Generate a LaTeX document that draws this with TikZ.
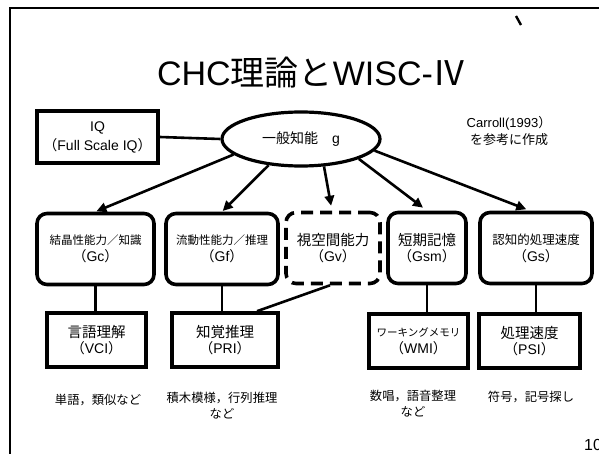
\documentclass[tikz,border=0pt]{standalone}
\usepackage{fontspec}
\setmainfont{Liberation Sans}
\newfontfamily\jpf{Noto Sans CJK JP}
\usetikzlibrary{arrows.meta,shapes.geometric}
\begin{document}
\begin{tikzpicture}[x=1pt,y=-1pt,
  sq/.style={draw,line width=3.6pt,align=center,inner sep=0pt},
  rbox/.style={sq,rounded corners=10pt},
  dbox/.style={rbox,dash pattern=on 12pt off 7pt},
  arr/.style={line width=2.6pt,-{Triangle[length=10pt,width=9.5pt]}},
  link/.style={line width=2.6pt},
  frame/.style={line width=2.2pt},
  note/.style={align=center,inner sep=0pt,font=\fontsize{12.3}{16}\selectfont\jpf}]
\useasboundingbox (0,0) rectangle (599,454);
\fill[white] (0,0) rectangle (599,454);
% slide frame
\coordinate (fl) at (10,456);
\coordinate (ftl) at (10,8);
\coordinate (fr) at (601,8);
\draw[frame] (fl) -- (ftl) -- (fr);
\coordinate (t1) at (516,16);
\coordinate (t2) at (521,25);
\draw[line width=2.4pt] (t1) -- (t2);
% title
\node[inner sep=0pt,font=\fontsize{34}{36}\selectfont] (title) at (312,73)
  {CHC{\jpf 理論と}WISC-{\jpf Ⅳ}};
% top
\node[sq,minimum width=121pt,minimum height=52pt,font=\fontsize{14}{19}\selectfont] (iq) at (97.5,137)
  {IQ\\{\jpf（}Full Scale IQ{\jpf ）}};
\node[draw,ellipse,line width=3.2pt,minimum width=158pt,minimum height=54pt,inner sep=0pt,
  font=\fontsize{14}{16}\selectfont] (g) at (301,139) {{\jpf 一般知能　}g};
\node[align=center,inner sep=0pt,font=\fontsize{13}{17}\selectfont] (car) at (509,131)
  {Carroll(1993{\jpf ）}\\{\jpf を参考に作成}};
\draw[link] (iq.east) -- (g.west);
% row 1
\node[rbox,minimum width=117pt,minimum height=71pt] (gc) at (95.5,249)
  {{\fontsize{11.5}{14}\selectfont\jpf 結晶性能力／知識}\\[3pt]{\fontsize{14}{14}\selectfont{\jpf（}Gc{\jpf ）}}};
\node[rbox,minimum width=112pt,minimum height=71pt] (gf) at (222,249)
  {{\fontsize{11.5}{14}\selectfont\jpf 流動性能力／推理}\\[3pt]{\fontsize{14}{14}\selectfont{\jpf（}Gf{\jpf ）}}};
\node[dbox,minimum width=94pt,minimum height=71pt] (gv) at (333,248)
  {{\fontsize{14.5}{14}\selectfont\jpf 視空間能力}\\[2pt]{\fontsize{14}{14}\selectfont{\jpf（}Gv{\jpf ）}}};
\node[rbox,minimum width=78pt,minimum height=71pt] (gsm) at (427,248)
  {{\fontsize{14.5}{14}\selectfont\jpf 短期記憶}\\[2pt]{\fontsize{14}{14}\selectfont{\jpf（}Gsm{\jpf ）}}};
\node[rbox,minimum width=112pt,minimum height=71pt] (gs) at (536,248)
  {{\fontsize{12.5}{14}\selectfont\jpf 認知的処理速度}\\[3pt]{\fontsize{14}{14}\selectfont{\jpf（}Gs{\jpf ）}}};
% arrows
\draw[arr,shorten >=1pt] (g.193) -- (gc.north);
\draw[arr,shorten >=1pt] (g.219) -- (gf.north);
\draw[arr,shorten >=5pt] (g.310) -- ([xshift=-1pt]gv.north);
\draw[arr,shorten >=5pt] (g.341) -- (gsm.north);
\draw[arr,shorten >=4pt] (g.351) -- ([xshift=-6pt]gs.north);
% row 2
\node[sq,minimum width=99pt,minimum height=54pt] (vci) at (96.5,340)
  {{\fontsize{14.5}{14}\selectfont\jpf 言語理解}\\[2pt]{\fontsize{14}{14}\selectfont{\jpf（}VCI{\jpf ）}}};
\node[sq,minimum width=106pt,minimum height=54pt] (pri) at (225,340)
  {{\fontsize{14.5}{14}\selectfont\jpf 知覚推理}\\[2pt]{\fontsize{14}{14}\selectfont{\jpf（}PRI{\jpf ）}}};
\node[sq,minimum width=99pt,minimum height=54pt] (wmi) at (418.5,341)
  {{\fontsize{10.5}{12}\selectfont\jpf ワーキングメモリ}\\[3pt]{\fontsize{14}{14}\selectfont{\jpf（}WMI{\jpf ）}}};
\node[sq,minimum width=101pt,minimum height=54pt] (psi) at (529.5,341)
  {{\fontsize{14.5}{14}\selectfont\jpf 処理速度}\\[2pt]{\fontsize{14}{14}\selectfont{\jpf（}PSI{\jpf ）}}};
% links
\draw[link] (gc.south) -- (gc.south |- vci.north);
\draw[link] (gf.south) -- (gf.south |- pri.north);
\draw[link] ([xshift=-3pt]gv.south) -- ([xshift=32pt]pri.north);
\draw[link] (gsm.south) -- (gsm.south |- wmi.north);
\draw[link] (gs.south) -- (gs.south |- psi.north);
% notes
\node[note] (n1) at (98,400) {単語，類似など};
\node[note,anchor=north] (n2) at (222,392) {積木模様，行列推理\\など};
\node[note,anchor=north] (n3) at (413,390) {数唱，語音整理\\など};
\node[note] (n4) at (531,397) {符号，記号探し};
\node[anchor=base west,inner sep=0pt,font=\fontsize{16}{16}\selectfont] (pg) at (584,450) {10};
\end{tikzpicture}
\end{document}
